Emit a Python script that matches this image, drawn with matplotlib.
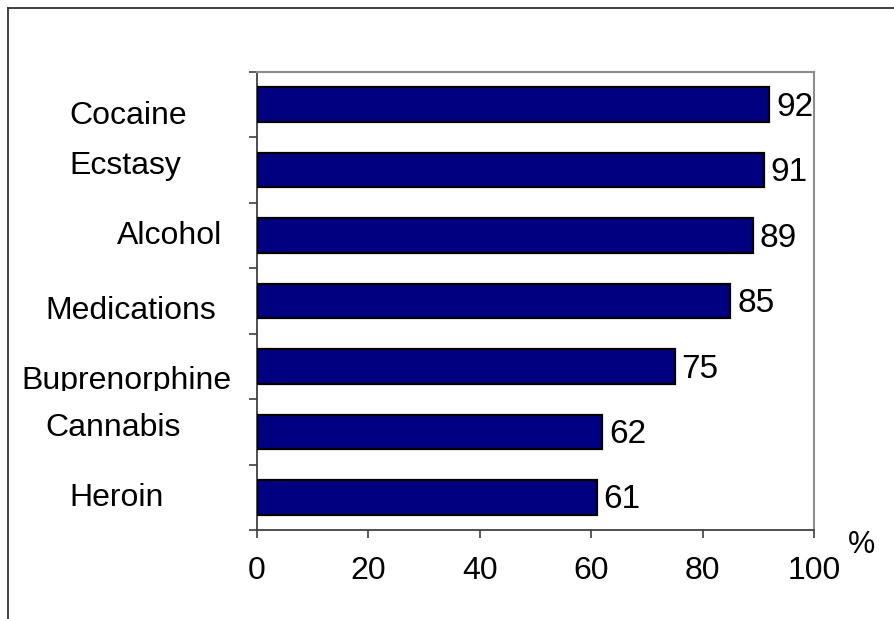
import matplotlib
matplotlib.use("Agg")
import matplotlib.pyplot as plt
from matplotlib.lines import Line2D
from matplotlib.patches import Rectangle

plt.rcParams["font.family"] = ["Liberation Sans", "DejaVu Sans"]

drugs = ["Cocaine", "Ecstasy", "Alcohol", "Medications",
         "Buprenorphine", "Cannabis", "Heroin"]
percent = [92, 91, 89, 85, 75, 62, 61]
x_ticks = [0, 20, 40, 60, 80, 100]

# hand-placed category labels: (x in axes fraction, baseline shift in bar units)
label_pos = [(-0.232, 0.30), (-0.237, 0.06), (-0.157, 0.13), (-0.227, 0.27),
             (-0.235, 0.35), (-0.258, 0.07), (-0.252, 0.14)]

fig = plt.figure(figsize=(8.94, 6.19), dpi=100)
ax = fig.add_axes([0.2875, 0.1438, 0.623, 0.7399])

ypos = list(range(len(drugs)))
ax.barh(ypos, percent, height=0.53, color="#000080",
        edgecolor="black", linewidth=1.6, zorder=3)

for y, v in zip(ypos, percent):
    ax.annotate(str(v), xy=(v, y + 0.17), xytext=(5, 0),
                textcoords="offset points", ha="left", va="baseline",
                fontsize=24)

for y, name, (lx, dy) in zip(ypos, drugs, label_pos):
    t = ax.text(lx, y + dy, name, transform=ax.get_yaxis_transform(),
                ha="center", va="baseline", fontsize=23)
    if name == "Buprenorphine":
        # this label's box cuts off the descenders
        t.set_clip_on(True)
        t.set_clip_path(Rectangle((-1, y + dy + 0.03), 3, -2,
                                  transform=ax.get_yaxis_transform()))

ax.set_xlim(0, 100)
ax.set_ylim(len(drugs) - 0.5, -0.5)
ax.set_xticks(x_ticks)
ax.set_xticklabels([str(v) for v in x_ticks], fontsize=23)
ax.set_yticks([i - 0.5 for i in range(len(drugs) + 1)])
ax.set_yticklabels([])
ax.tick_params(axis="both", direction="out", length=6, width=1.2,
               color="#404040")
ax.tick_params(axis="x", pad=13)

for side in ["left", "bottom"]:
    ax.spines[side].set_color("#404040")
    ax.spines[side].set_linewidth(1.3)
for side in ["top", "right"]:
    ax.spines[side].set_color("#8c8c8c")
    ax.spines[side].set_linewidth(1.5)

fig.text(0.964, 0.1195, "%", ha="center", va="center", fontsize=22)

# outer frame, open at the right and bottom
fig.add_artist(Line2D([8 / 894, 8 / 894], [0, 1 - 8 / 619],
                      transform=fig.transFigure, color="#333333", lw=1.3))
fig.add_artist(Line2D([8 / 894, 1], [1 - 8 / 619, 1 - 8 / 619],
                      transform=fig.transFigure, color="#333333", lw=1.3))

fig.savefig("out.png", dpi=100)
